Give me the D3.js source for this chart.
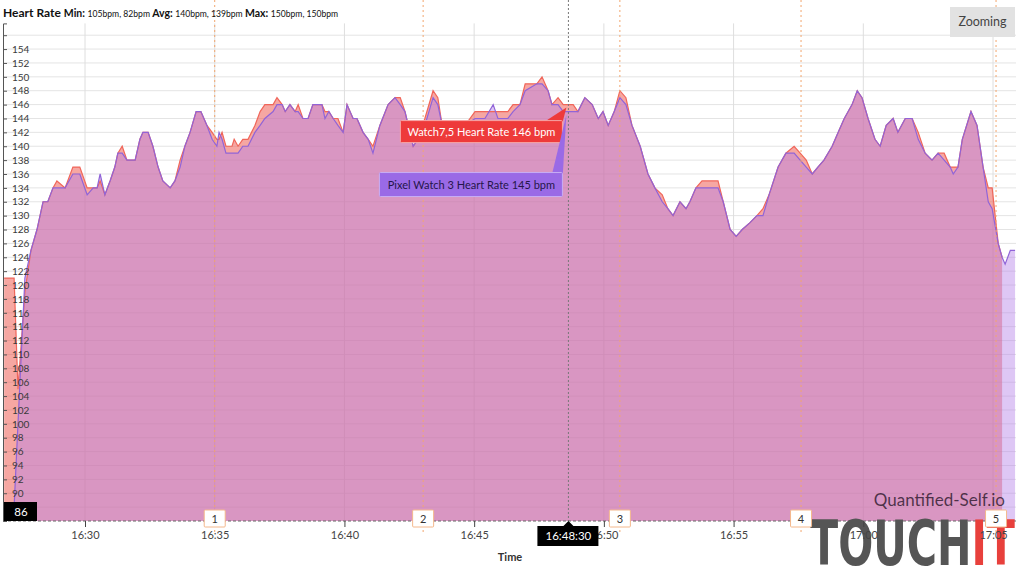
<!DOCTYPE html>
<html><head><meta charset="utf-8">
<script src="https://cdn.jsdelivr.net/npm/d3@7"></script>
<style>body{margin:0;background:#fff;} svg{display:block;font-family:Lato,'Open Sans',sans-serif;}</style>
</head><body><svg id="c" width="1024" height="571"></svg>
<script>
const times = ["16:26:53","16:27:11","16:27:16","16:27:25","16:27:41","16:27:55","16:28:09","16:28:23","16:28:34","16:28:46","16:28:55","16:29:14","16:29:32","16:29:48","16:30:05","16:30:19","16:30:28","16:30:35","16:30:46","16:30:58","16:31:09","16:31:16","16:31:26","16:31:37","16:31:56","16:32:07","16:32:14","16:32:26","16:32:37","16:32:49","16:33:00","16:33:17","16:33:28","16:33:40","16:33:51","16:34:03","16:34:17","16:34:28","16:34:42","16:34:54","16:35:05","16:35:10","16:35:17","16:35:26","16:35:40","16:35:45","16:35:54","16:36:05","16:36:17","16:36:33","16:36:45","16:36:56","16:37:15","16:37:24","16:37:36","16:37:43","16:37:54","16:38:06","16:38:13","16:38:24","16:38:36","16:38:47","16:39:08","16:39:15","16:39:24","16:39:34","16:39:45","16:39:57","16:40:06","16:40:20","16:40:29","16:40:43","16:40:55","16:41:06","16:41:22","16:41:41","16:41:57","16:42:09","16:42:20","16:42:39","16:42:50","16:43:06","16:43:25","16:43:36","16:43:46","16:44:16","16:44:39","16:45:02","16:45:25","16:45:44","16:45:55","16:46:18","16:46:30","16:46:46","16:46:58","16:47:25","16:47:37","16:47:51","16:48:00","16:48:14","16:48:26","16:48:49","16:49:00","16:49:16","16:49:33","16:49:47","16:49:58","16:50:10","16:50:24","16:50:37","16:50:51","16:51:05","16:51:24","16:51:42","16:51:58","16:52:15","16:52:28","16:52:40","16:52:56","16:53:10","16:53:19","16:53:33","16:53:47","16:54:24","16:54:36","16:54:52","16:55:06","16:55:20","16:55:38","16:55:54","16:56:08","16:56:22","16:56:43","16:57:01","16:57:20","16:57:34","16:57:48","16:58:02","16:58:15","16:58:29","16:58:48","16:59:02","16:59:16","16:59:25","16:59:34","16:59:46","16:59:57","17:00:11","17:00:27","17:00:39","17:00:53","17:01:09","17:01:20","17:01:37","17:01:53","17:02:07","17:02:23","17:02:39","17:02:53","17:03:07","17:03:21","17:03:28","17:03:39","17:03:49","17:04:09","17:04:23","17:04:37","17:04:49","17:04:58","17:05:12","17:05:21","17:05:28","17:05:40","17:05:51"];
const watchHR = [121,121,121,105,119,125,128,132,132,134,135,134,137,137,134,134,134,135,133,135,137,139,140,138,138,141,142,142,140,137,135,134,135,138,140,142,145,145,143,142,141,141,142,140,140,141,140,141,141,143,145,146,146,147,146,145,146,145,146,144,144,146,146,145,145,144,144,142,146,144,144,142,141,140,143,146,147,147,145,140,141,144,148,147,143,142,143,145,145,145,145,145,146,146,149,149,150,148,146,147,146,146,145,147,146,144,145,143,145,148,147,143,140,136,134,133,131,130,132,131,132,134,135,135,132,128,127,128,129,130,131,133,137,139,140,139,138,136,137,138,140,142,144,145,146,148,147,144,141,140,143,144,142,144,144,142,139,138,139,139,137,137,137,141,145,143,137,134,134,126,124,null,null,null];
const pixelHR = [null,82,88,100,121,125,128,132,132,134,134,134,136,136,133,134,134,136,133,135,137,139,139,138,138,141,142,142,140,137,135,134,135,137,140,142,145,145,143,141,140,142,141,139,139,139,139,140,140,142,143,144,145,146,146,145,146,145,145,144,144,146,146,144,145,144,143,142,146,144,144,142,141,139,143,146,147,146,145,140,141,143,147,146,143,142,143,144,144,146,144,144,145,146,148,149,149,148,146,146,145,145,145,147,146,144,145,143,145,147,146,143,140,136,134,132,131,130,132,131,132,134,134,134,132,128,127,128,129,130,130,133,137,139,139,138,137,136,137,138,140,142,144,145,146,148,147,144,141,140,143,144,142,144,144,141,139,138,139,138,137,136,137,141,145,143,137,132,131,126,124,123,125,125];
const yTickValues = d3.range(88, 157, 2);
const xTickTimes = ["16:30:00","16:35:00","16:40:00","16:45:00","16:50:00","16:55:00","17:00:00","17:05:00"];
const lapTimes = ["16:35:00","16:43:02","16:50:37","16:57:36","17:05:07"];
const lapLabels = ["1","2","3","4","5"];
const hoverTime = "16:48:38";
const hoverTimeLabel = "16:48:30";
const hoverWatch = 146, hoverPixel = 145;
const crossValue = 86;
const seriesNames = ["Watch7,5 Heart Rate", "Pixel Watch 3 Heart Rate"];

const parse = d3.timeParse("%H:%M:%S");
const svg = d3.select("#c");
const x = d3.scaleTime().domain([parse("16:30:00"), parse("17:00:00")]).range([85, 863.3]);
const y = d3.scaleLinear().domain([86, 157.7]).range([521, 23.4]);
const plotL = 0, plotR = 1016, plotT = 0, plotB = 521;

svg.append("defs").append("clipPath").attr("id","clip").append("rect")
  .attr("x", plotL).attr("y", plotT).attr("width", plotR-plotL).attr("height", plotB-plotT);

// gridlines
svg.append("g").selectAll("line").data(yTickValues).join("line")
  .attr("x1", 3).attr("x2", 1016).attr("y1", d=>y(d)).attr("y2", d=>y(d))
  .attr("stroke", "#e4e4e4").attr("stroke-width", 1);
svg.append("g").selectAll("line").data(xTickTimes).join("line")
  .attr("x1", d=>x(parse(d))).attr("x2", d=>x(parse(d))).attr("y1", y(157.7)).attr("y2", plotB)
  .attr("stroke", "#dedede").attr("stroke-width", 1);

const data = times.map((t,i)=>({t: parse(t), w: watchHR[i], p: pixelHR[i]}));
const wData = data.filter(d=>d.w!=null), pData = data.filter(d=>d.p!=null);
const areaW = d3.area().x(d=>x(d.t)).y0(y(86)).y1(d=>y(d.w));
const areaP = d3.area().x(d=>x(d.t)).y0(y(86)).y1(d=>y(d.p));
const lineW = d3.line().x(d=>x(d.t)).y(d=>y(d.w));
const lineP = d3.line().x(d=>x(d.t)).y(d=>y(d.p));
const g = svg.append("g").attr("clip-path","url(#clip)");
g.append("path").datum(wData).attr("d", areaW).attr("fill", "rgb(238,80,70)").attr("fill-opacity", 0.5);
g.append("path").datum(pData).attr("d", areaP).attr("fill", "rgb(182,130,232)").attr("fill-opacity", 0.45);
g.append("path").datum(wData).attr("d", lineW).attr("fill","none").attr("stroke","#f0665a").attr("stroke-width",1.2);
g.append("path").datum(pData).attr("d", lineP).attr("fill","none").attr("stroke","#9064d8").attr("stroke-width",1.2);

// lap lines
svg.append("g").selectAll("line").data(lapTimes).join("line")
  .attr("x1", d=>x(parse(d))).attr("x2", d=>x(parse(d))).attr("y1", 0).attr("y2", 532)
  .attr("stroke", "#f2a66e").attr("stroke-width", 1).attr("stroke-dasharray", "2,3");

// crosshair
const hx = x(parse(hoverTime));
svg.append("line").attr("x1", hx).attr("x2", hx).attr("y1", 0).attr("y2", plotB)
  .attr("stroke", "#777").attr("stroke-dasharray", "2,2");
svg.append("line").attr("x1", 3).attr("x2", 1016).attr("y1", y(crossValue)).attr("y2", y(crossValue))
  .attr("stroke", "#666").attr("stroke-dasharray", "3,2");

// y axis
const yAxis = svg.append("g").attr("transform","translate(3,0)")
  .call(d3.axisRight(y).tickValues(yTickValues).tickSize(4).tickPadding(5)
    .tickFormat(d => d===156 ? "" : d));
yAxis.select(".domain").attr("stroke","#555");
yAxis.selectAll(".tick line").attr("stroke","#555");
yAxis.selectAll("text").attr("fill","#3a3a3a").style("font-size","10px").style("font-family","Lato,sans-serif");

// watermark + logo
svg.append("text").attr("x", 1005).attr("y", 506).attr("text-anchor","end")
  .style("font-size","17px").style("font-family","Lato,'Open Sans',sans-serif")
  .attr("fill","rgba(40,20,40,0.78)").text("Quantified-Self.io");
const logo = svg.append("text").attr("x", 810).attr("y", 565)
  .attr("textLength", 205).attr("lengthAdjust","spacingAndGlyphs")
  .style("font-size","62px").style("font-weight","bold")
  .style("font-family","'Liberation Sans Narrow','DejaVu Sans Condensed',sans-serif");
logo.append("tspan").attr("fill","#555").text("TOUCH");
logo.append("tspan").attr("fill","#e8403c").text("IT");

// x axis
const xAxis = svg.append("g").attr("transform",`translate(0,${plotB})`)
  .call(d3.axisBottom(x).tickValues(xTickTimes.map(parse)).tickSize(6).tickPadding(4)
    .tickFormat(d3.timeFormat("%H:%M")));
xAxis.select(".domain").remove();
xAxis.selectAll(".tick line").attr("stroke","#444");
xAxis.selectAll("text").attr("fill","#444").style("font-size","11px").style("font-family","Lato,sans-serif");
svg.append("text").attr("x", 510).attr("y", 561).attr("text-anchor","middle")
  .style("font-size","11px").style("font-weight","bold").attr("fill","#333").text("Time");

// lap boxes
const laps = svg.append("g").selectAll("g").data(lapTimes).join("g")
  .attr("transform", d=>`translate(${x(parse(d))},${plotB})`);
laps.append("rect").attr("x",-10.5).attr("y",-11).attr("width",21).attr("height",17).attr("rx",1)
  .attr("fill","#fff").attr("stroke","#f4b88c");
laps.append("text").attr("y",2).attr("text-anchor","middle").style("font-size","11px")
  .attr("fill","#333").text((d,i)=>lapLabels[i]);

// crosshair labels
svg.append("path").attr("d", `M${hx-31},526 H${hx-5} L${hx},521 L${hx+5},526 H${hx+30} V546 H${hx-31} Z`).attr("fill","#000");
svg.append("text").attr("x", hx).attr("y", 540).attr("text-anchor","middle").style("font-size","11.5px").attr("fill","#fff").text(hoverTimeLabel);
svg.append("rect").attr("x", 4).attr("y", y(crossValue)-19).attr("width", 33).attr("height", 19).attr("fill","#000");
svg.append("text").attr("x", 21).attr("y", y(crossValue)-5).attr("text-anchor","middle").style("font-size","11.5px").attr("fill","#fff").text(crossValue);

// tooltips
const wy = y(hoverWatch), py = y(hoverPixel);
svg.append("path").attr("d", `M${hx-22},${wy+16} L${hx-2},${wy+3} L${hx-7},${wy+22} Z`).attr("fill","#ee3a3a");
svg.append("rect").attr("x", hx-168).attr("y", wy+16).attr("width", 162).attr("height", 22).attr("rx",1)
  .attr("fill","#ee3a3a").attr("stroke","#f6a5a5");
svg.append("text").attr("x", hx-87).attr("y", wy+31).attr("text-anchor","middle").style("font-size","11px")
  .attr("fill","#fff").text(`${seriesNames[0]} ${hoverWatch} bpm`);
svg.append("path").attr("d", `M${hx-16},${py+61} L${hx-2},${py+3} L${hx-6},${py+69} Z`).attr("fill","#9a6ae6");
svg.append("rect").attr("x", hx-189).attr("y", py+61).attr("width", 183).attr("height", 24).attr("rx",1)
  .attr("fill","#9a6ae6").attr("stroke","#c8aef5");
svg.append("text").attr("x", hx-97).attr("y", py+77).attr("text-anchor","middle").style("font-size","11px")
  .attr("fill","#25164a").text(`${seriesNames[1]} ${hoverPixel} bpm`);

// title
const title = svg.append("text").attr("x", 3).attr("y", 17).attr("fill","#111");
title.append("tspan").style("font-size","12px").style("font-weight","bold").text("Heart Rate ");
title.append("tspan").style("font-size","10.5px").style("font-weight","bold").text("Min: ");
title.append("tspan").style("font-size","8.6px").text("105bpm, 82bpm ");
title.append("tspan").style("font-size","10.5px").style("font-weight","bold").text("Avg: ");
title.append("tspan").style("font-size","8.6px").text("140bpm, 139bpm ");
title.append("tspan").style("font-size","10.5px").style("font-weight","bold").text("Max: ");
title.append("tspan").style("font-size","8.6px").text("150bpm, 150bpm");

// zooming button
svg.append("rect").attr("x", 950).attr("y", 7).attr("width", 65).attr("height", 30).attr("fill","#e2e2e2");
svg.append("text").attr("x", 982.5).attr("y", 26).attr("text-anchor","middle").style("font-size","12.5px")
  .attr("fill","#444").text("Zooming");
</script></body></html>
